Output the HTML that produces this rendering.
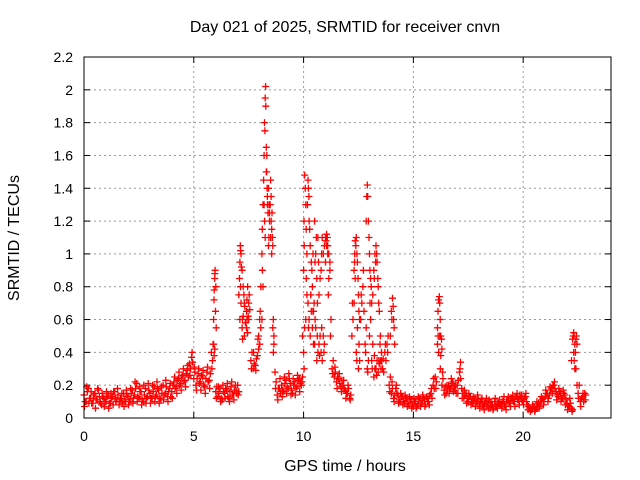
<!DOCTYPE html>
<html><head><meta charset="utf-8"><style>
body{margin:0;background:#fff}
svg{display:block;font-family:"Liberation Sans",sans-serif}
</style></head><body>
<svg id="chart" width="640" height="480">
<text x="345" y="32" text-anchor="middle" font-size="16">Day 021 of 2025, SRMTID for receiver cnvn</text>
<text x="345" y="471" text-anchor="middle" font-size="16">GPS time / hours</text>
<text transform="translate(19,238) rotate(-90)" text-anchor="middle" font-size="16">SRMTID / TECUs</text>
<g id="grid"></g><g id="ticks"></g><g id="pts"></g>
<rect x="84" y="57" width="527" height="361" fill="none" stroke="#000"/>
</svg>
<script>
const xTicks=[0,5,10,15,20];
const yTicks=[0,0.2,0.4,0.6,0.8,1,1.2,1.4,1.6,1.8,2,2.2];
const yTickLabels=["0","0.2","0.4","0.6","0.8","1","1.2","1.4","1.6","1.8","2","2.2"];
const baseA=[.14,.10,.18,.12,.09,.15,.11,.13,.08,.12,
.10,.14,.09,.13,.16,.11,.08,.12,.15,.10,
.13,.11,.17,.14,.21,.12,.16,.10,.18,.13,
.15,.12,.19,.14,.17,.11,.20,.15,.13,.18,
.16,.22,.19,.24,.21,.26,.23,.29,.33,.37,
.24,.20,.27,.22,.25,.19,.28,.23,.40,.45,
.16,.13,.18,.11,.15,.17,.12,.19,.14,.20,
.20,.60,.55,.50,.55,.60,.35,.30,.32,.38,
.45,.60,1.30,1.50,1.05,1.10,.55,.28,.14,.18,
.20,.16,.23,.18,.21,.15,.22,.19,.24,.20,
.40,.60,.70,.50,.55,.45,.35,.45,.40,.50,
.95,1.0,.90,.30,.25,.22,.24,.19,.20,.17,
.15,.12,.50,.70,.40,.30,.60,.80,.45,.30,
.50,.35,.25,.30,.28,.35,.30,.40,.45,.20,
.15,.12,.18,.14,.10,.13,.09,.12,.08,.11,
.07,.10,.08,.12,.09,.11,.13,.10,.15,.20,
.25,.45,.50,.20,.17,.15,.20,.18,.22,.17,
.20,.28,.18,.12,.15,.10,.13,.09,.12,.10,
.08,.11,.07,.10,.09,.06,.08,.10,.07,.09,
.08,.10,.07,.11,.09,.12,.10,.13,.11,.12,
.10,.13,.08,.06,.05,.07,.06,.09,.10,.12,
.13,.15,.14,.18,.20,.16,.13,.15,.12,.14,
.09,.07,.06,.40,.48,.15,.10,.13,.15];
const baseB=[.10,.16,.12,.09,.14,.11,.17,.09,.13,.10,
.13,.09,.12,.16,.10,.14,.12,.09,.11,.14,
.10,.15,.12,.18,.13,.16,.11,.14,.12,.17,
.12,.16,.13,.18,.12,.15,.14,.19,.16,.13,
.20,.18,.23,.20,.25,.22,.27,.25,.30,.34,
.28,.24,.21,.26,.20,.24,.22,.27,.35,.42,
.19,.15,.12,.16,.18,.13,.16,.14,.17,.15,
.16,.70,.62,.58,.52,.66,.40,.33,.36,.42,
.55,.80,1.10,1.35,1.25,1.00,.45,.22,.18,.15,
.17,.21,.19,.24,.17,.20,.18,.23,.21,.25,
.55,.75,.60,.65,.45,.55,.40,.50,.35,.45,
1.05,.85,.60,.35,.28,.25,.21,.23,.18,.15,
.18,.14,.60,.85,.55,.35,.70,.65,.55,.35,
.60,.45,.30,.35,.33,.40,.28,.35,.50,.25,
.18,.14,.15,.11,.13,.10,.12,.09,.11,.08,
.10,.07,.11,.09,.12,.08,.10,.14,.12,.18,
.22,.40,.38,.24,.19,.17,.18,.21,.19,.15,
.23,.24,.15,.14,.12,.13,.10,.11,.09,.12,
.10,.08,.09,.07,.11,.08,.06,.07,.09,.08,
.10,.08,.11,.09,.12,.10,.13,.11,.14,.10,
.12,.10,.07,.05,.07,.05,.08,.07,.11,.10,
.15,.12,.17,.20,.18,.14,.16,.12,.15,.11,
.07,.09,.05,.30,.45,.20,.12,.10,.14];
const baseC=[.07,.19,.09,.16,.12,.06,.18,.10,.15,.07,
.16,.06,.15,.08,.12,.18,.10,.15,.07,.17,
.08,.18,.09,.22,.10,.19,.08,.20,.09,.21,
.09,.20,.10,.22,.09,.19,.11,.23,.10,.21,
.12,.25,.15,.28,.17,.30,.19,.32,.26,.40,
.31,.17,.30,.17,.29,.15,.31,.18,.30,.38,
.12,.19,.10,.20,.12,.21,.10,.22,.11,.17,
.14,.80,.48,.68,.60,.75,.30,.40,.29,.48,
.65,.90,1.20,1.60,1.30,1.20,.40,.18,.11,.24,
.13,.25,.15,.27,.14,.24,.14,.26,.16,.22,
.30,.85,.55,.75,.65,.60,.50,.38,.55,.40,
1.10,.75,.50,.27,.31,.18,.27,.16,.23,.12,
.20,.11,.70,.95,.35,.45,.75,.90,.40,.28,
.70,.30,.38,.26,.35,.30,.36,.45,.40,.16,
.22,.10,.20,.09,.15,.08,.14,.07,.13,.06,
.12,.06,.13,.07,.14,.07,.12,.08,.18,.24,
.18,.50,.30,.28,.14,.20,.15,.24,.16,.20,
.15,.30,.12,.17,.09,.15,.08,.13,.07,.14,
.06,.12,.05,.12,.06,.10,.05,.12,.06,.11,
.06,.13,.05,.13,.07,.14,.07,.15,.08,.14,
.08,.15,.05,.04,.08,.04,.10,.06,.13,.08,
.17,.10,.19,.15,.22,.11,.18,.10,.17,.08,
.05,.12,.04,.35,.50,.12,.07,.15,.11];
const spikeT=[5.88,5.9,5.92,5.95,5.97,6.0,6.02,
7.05,7.1,7.12,7.15,7.2,7.25,7.3,7.4,7.45,7.5,
7.95,8.0,8.05,8.1,8.15,8.2,8.22,8.25,8.27,8.3,8.32,8.35,8.4,8.45,8.5,8.52,8.55,8.6,8.62,8.65,
9.95,10.0,10.02,10.05,10.1,10.15,10.2,10.22,10.25,10.3,10.35,10.4,10.45,10.5,10.55,10.6,10.65,10.7,10.8,10.85,10.9,11.0,11.05,11.1,11.15,11.2,
12.3,12.35,12.4,12.45,12.5,12.55,12.85,12.9,12.92,12.95,13.0,13.05,13.1,13.2,13.25,13.3,13.35,13.4,13.45,13.5,13.55,
13.95,14.0,14.05,14.1,14.15,
16.1,16.15,16.18,16.22,16.25,16.3,
17.1,17.15,
22.2,22.25,22.3,22.35,22.4,22.45];
const spikeV=[.45,.6,.72,.85,.9,.8,.55,
.75,.95,1.05,1.0,.9,.8,.7,.65,.8,.7,
.5,.6,.8,1.0,1.3,1.6,1.8,1.95,2.02,1.65,1.5,1.3,1.4,1.2,1.45,1.35,1.15,1.05,.6,.5,
.5,.9,1.2,1.48,1.3,1.0,1.45,1.4,1.2,1.05,.95,.8,.65,1.2,1.0,.85,1.1,.75,.9,1.1,1.0,1.1,1.12,1.05,1.0,.95,
.9,1.08,1.1,.95,.75,.6,1.2,1.42,1.35,1.2,1.0,.85,.7,.9,1.0,1.05,.95,.8,.65,.5,.35,
.5,.65,.73,.6,.45,
.55,.72,.74,.6,.5,.42,
.28,.34,
.35,.48,.52,.45,.3,.2];
const spike2T=[5.93,5.96,5.99,7.08,7.13,7.17,7.22,7.28,7.35,7.42,7.48,8.12,8.18,8.24,8.28,8.34,8.38,8.42,8.48,8.56,8.58,10.03,10.08,10.12,10.18,10.24,10.28,10.33,10.38,10.43,10.48,10.52,10.58,10.63,10.68,10.75,10.82,10.95,11.02,11.08,12.33,12.38,12.43,12.48,12.52,12.88,12.98,13.02,13.08,13.15,13.22,13.28,13.33,13.38,13.42,13.48,14.02,14.08,14.12,16.12,16.2,16.28,22.28,22.32,22.38];
const spike2V=[.78,.88,.65,.85,1.02,.92,.6,.75,.58,.72,.62,1.15,1.45,1.75,1.9,1.4,1.25,1.1,1.3,1.25,1.1,1.05,1.4,1.15,1.3,1.35,1.15,.75,.9,1.0,.7,.95,1.1,.7,.95,.85,1.0,1.05,1.08,1.1,1.0,1.05,1.0,.85,.65,1.35,1.1,.9,.8,.75,.85,.95,1.0,.85,.7,.45,.6,.68,.55,.65,.7,.48,.5,.5,.4];
const NS="http://www.w3.org/2000/svg";
const X0=84,X1=611,Y0=418,Y1=57,XMAX=24,YMAX=2.2;
const xs=t=>X0+t/XMAX*(X1-X0);
const ys=v=>Y0-v/YMAX*(Y0-Y1);
const grid=document.getElementById('grid'),ticks=document.getElementById('ticks'),pts=document.getElementById('pts');
function mk(tag,a,p){const e=document.createElementNS(NS,tag);for(const k in a)e.setAttribute(k,a[k]);p.appendChild(e);return e;}
xTicks.forEach((t,i)=>{const x=xs(t);
 if(i>0){const g=mk('line',{x1:x,x2:x,y1:Y0,y2:Y1,stroke:'#999','stroke-dasharray':'2,3'},grid);
 
 }
 mk('line',{x1:x,x2:x,y1:Y0,y2:Y0-6,stroke:'#000'},ticks);mk('line',{x1:x,x2:x,y1:Y1,y2:Y1+6,stroke:'#000'},ticks);
 const l=mk('text',{x:x,y:Y0+23,'text-anchor':'middle','font-size':14},ticks);l.textContent=t;
 
 });
yTicks.forEach((v,i)=>{const y=ys(v);
 if(i>0&&i<yTicks.length-1){const g=mk('line',{x1:X0,x2:X1,y1:y,y2:y,stroke:'#999','stroke-dasharray':'2,3'},grid);
 
 }
 mk('line',{x1:X0,x2:X0+6,y1:y,y2:y,stroke:'#000'},ticks);mk('line',{x1:X1,x2:X1-6,y1:y,y2:y,stroke:'#000'},ticks);
 const l=mk('text',{x:X0-11,y:y+5,'text-anchor':'end','font-size':14},ticks);l.textContent=yTickLabels[i];
 
 });
let d='';
function cross(t,v){const x=xs(t),y=ys(v);d+=`M${(x-3.5).toFixed(1)} ${y.toFixed(1)}h7M${x.toFixed(1)} ${(y-3.5).toFixed(1)}v7`;}
baseA.forEach((v,i)=>{cross(i*0.1,v);});
baseB.forEach((v,i)=>{cross(i*0.1+0.05,v);});
baseC.forEach((v,i)=>{cross(i*0.1+0.025,v);});
spikeT.forEach((t,i)=>{cross(t,spikeV[i]);});
spike2T.forEach((t,i)=>{cross(t,spike2V[i]);});
const p=mk('path',{d:d,stroke:'#ff0000','stroke-width':1.3,fill:'none'},pts);


</script>
</body></html>
